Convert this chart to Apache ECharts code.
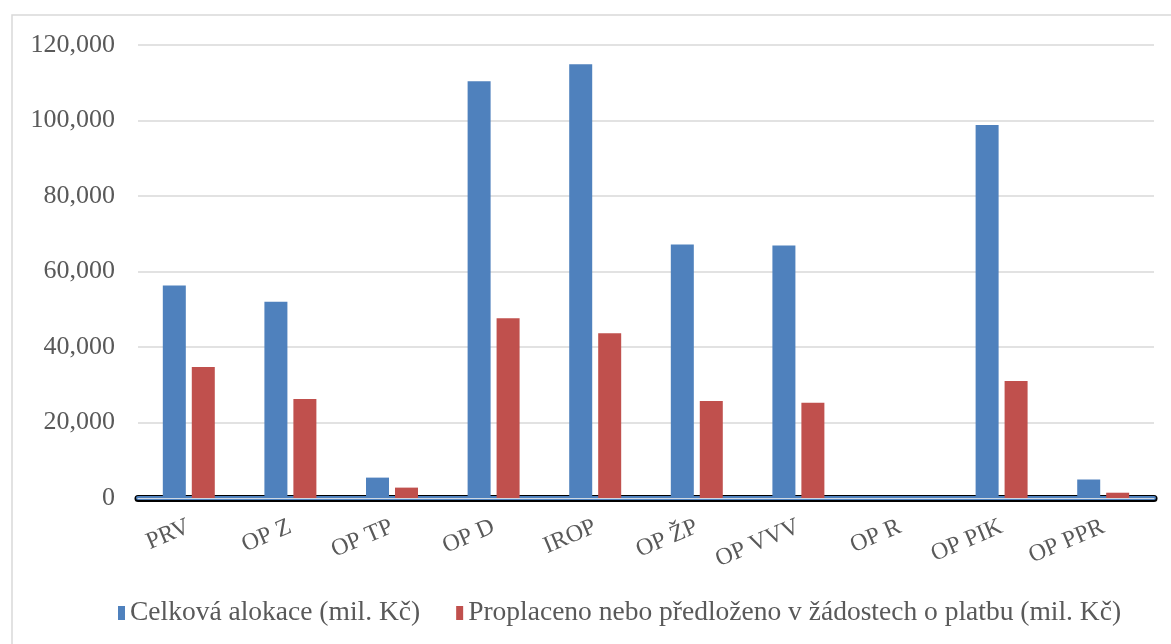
<!DOCTYPE html>
<html><head><meta charset="utf-8">
<script src="https://cdn.jsdelivr.net/npm/echarts@6/dist/echarts.min.js"></script>
<style>html,body{margin:0;padding:0;background:#fff}#c{width:1171px;height:644px}</style>
</head><body><div id="c"></div>
<script>
const categories = ['PRV','OP Z','OP TP','OP D','IROP','OP ŽP','OP VVV','OP R','OP PIK','OP PPR'];
const allocation = [56300, 52000, 5400, 110400, 114900, 67150, 66900, 0, 98800, 4900];
const paid = [34700, 26200, 2750, 47600, 43650, 25700, 25200, 0, 31000, 1400];
const seriesNames = ['Celková alokace (mil. Kč)', 'Proplaceno nebo předloženo v žádostech o platbu (mil. Kč)'];

const chart = echarts.init(document.getElementById('c'));
const font = 'Liberation Serif';
const baseX = {
  type: 'category', data: categories, position: 'bottom',
  axisTick: {show: false}, splitLine: {show: false}
};
chart.setOption({
  animation: false,
  graphic: [{type: 'rect', shape: {x: 12, y: 15, width: 1170, height: 640},
    style: {fill: 'none', stroke: '#d9d9d9', lineWidth: 1.5}, silent: true}],
  grid: {left: 138, right: 17, top: 45, bottom: 146, containLabel: false},
  legend: {
    bottom: 12, left: 113, itemWidth: 7, itemHeight: 14, itemGap: 36,
    icon: 'rect',
    textStyle: {fontFamily: font, fontSize: 27.5, color: '#595959'},
    data: seriesNames
  },
  xAxis: [
    Object.assign({}, baseX, {
      axisLine: {show: true, lineStyle: {color: '#000', width: 7}},
      axisLabel: {fontFamily: font, fontSize: 24, color: '#595959', rotate: 23, margin: 28, interval: 0}
    }),
    Object.assign({}, baseX, {
      axisLine: {show: true, lineStyle: {color: '#4f81bd', width: 4}},
      axisLabel: {show: false}
    }),
    Object.assign({}, baseX, {
      axisLine: {show: true, lineStyle: {color: '#cfd8e3', width: 1.2}},
      axisLabel: {show: false}
    })
  ],
  yAxis: {
    type: 'value', min: 0, max: 120000, interval: 20000,
    axisLine: {show: false}, axisTick: {show: false},
    splitLine: {lineStyle: {color: '#d9d9d9', width: 1.5}},
    axisLabel: {fontFamily: font, fontSize: 26, color: '#595959', margin: 23,
      formatter: v => v.toLocaleString('en-US')}
  },
  series: [
    {name: seriesNames[0], type: 'bar', data: allocation, barWidth: 23, barGap: '26%',
      itemStyle: {color: '#4f81bd'}, z: 1},
    {name: seriesNames[1], type: 'bar', data: paid, barWidth: 23, barGap: '26%',
      itemStyle: {color: '#c0504d'}, z: 1}
  ]
});
</script></body></html>
